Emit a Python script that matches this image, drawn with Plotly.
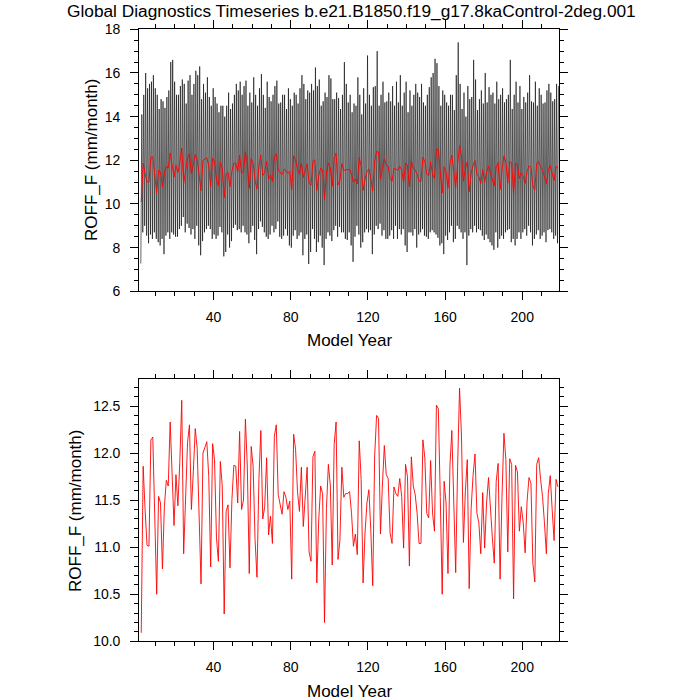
import plotly.graph_objects as go

# ---------------- data ----------------
years = list(range(2, 219))

annual_mean = [
    10.09, 11.86, 11.40, 11.02, 11.01, 12.14, 12.17, 11.30, 10.50, 11.54,
    11.47, 10.77, 11.43, 11.71, 11.65, 12.33, 11.80, 11.23, 11.77, 11.44,
    11.90, 12.56, 10.93, 11.50, 12.11, 12.30, 11.40, 11.80, 12.26, 12.05,
    11.30, 10.61, 12.00, 12.05, 12.12, 11.75, 10.79, 12.10, 11.93, 11.10,
    10.85, 11.91, 11.65, 10.29, 11.38, 11.45, 10.78, 11.50, 11.87, 11.86,
    11.47, 12.23, 11.40, 11.50, 12.36, 11.85, 10.72, 12.07, 11.86, 11.08,
    10.68, 11.72, 12.24, 11.30, 11.43, 11.95, 11.13, 11.33, 11.04, 12.18,
    12.30, 11.56, 11.43, 11.35, 11.59, 11.53, 11.40, 11.49, 10.66, 12.20,
    12.04, 11.59, 11.38, 11.85, 11.22, 11.54, 11.85, 10.95, 10.85, 11.96,
    12.02, 10.62, 11.29, 11.65, 11.57, 10.20, 11.41, 11.88, 11.66, 10.81,
    12.09, 12.33, 10.87, 11.08, 11.85, 11.53, 11.57, 11.57, 11.59, 11.36,
    11.01, 11.14, 10.92, 12.13, 11.72, 10.62, 11.15, 11.47, 11.61, 11.18,
    10.59, 11.97, 12.40, 12.37, 11.14, 11.65, 12.08, 11.77, 11.73, 11.15,
    11.04, 11.64, 11.57, 11.54, 11.73, 11.54, 10.99, 11.88, 11.75, 10.80,
    11.96, 11.65, 11.56, 11.36, 11.04, 11.04, 12.14, 11.95, 11.36, 11.31,
    11.92, 11.36, 11.17, 12.51, 12.47, 11.54, 10.50, 11.70, 11.47, 10.72,
    11.86, 12.24, 11.47, 10.73, 11.86, 12.69, 12.18, 11.05, 11.59, 11.93,
    10.56, 11.41, 11.76, 11.99, 11.36, 11.26, 10.93, 11.58, 10.99, 11.47,
    11.74, 11.36, 11.10, 10.83, 11.70, 11.89, 10.66, 11.54, 12.21, 11.93,
    10.95, 11.94, 11.88, 10.45, 11.87, 11.80, 11.17, 11.43, 11.26, 10.94,
    11.49, 11.74, 11.68, 10.83, 10.63, 11.88, 11.95, 11.72, 11.54, 11.26,
    10.93, 11.57, 11.76, 11.40, 11.07, 11.72, 11.64,
]

# seasonal-cycle peak (highest month) of each year
monthly_max = [
    14.1, 15.0, 16.0, 15.3, 15.5, 15.6, 15.9, 15.3, 15.0, 14.35,
    14.8, 14.7, 14.4, 14.9, 15.2, 16.5, 16.6, 15.6, 15.0, 15.0,
    15.4, 15.7, 15.5, 14.6, 15.65, 15.9, 15.0, 15.5, 16.1, 15.9,
    16.3, 14.8, 15.5, 15.1, 15.8, 14.9, 14.5, 15.3, 14.9, 14.6,
    14.2, 14.5, 14.5, 14.0, 14.5, 15.1, 14.35, 14.6, 15.0, 15.5,
    15.2, 15.6, 15.0, 15.4, 15.65, 14.5, 15.1, 14.65, 15.8, 15.0,
    14.5, 15.3, 15.95, 15.0, 14.4, 15.6, 14.9, 14.7, 15.0, 15.4,
    15.65, 14.6, 14.65, 15.0, 15.0, 14.35, 15.3, 14.8, 14.5, 15.1,
    15.0, 14.6, 15.3, 15.9, 15.5, 14.8, 15.2, 15.1, 15.5, 15.2,
    16.25, 15.4, 15.7, 14.5, 14.7, 15.1, 14.9, 15.9, 15.75, 14.8,
    14.8, 15.1, 14.85, 14.35, 15.0, 16.5, 15.5, 14.65, 15.0, 14.2,
    14.6, 14.5, 15.8, 15.0, 14.1, 15.3, 14.6, 16.8, 15.0, 14.5,
    15.35, 15.4, 17.0, 14.5, 15.0, 15.6, 14.65, 14.7, 15.1, 14.7,
    15.4, 14.5, 15.6, 14.65, 15.9, 14.5, 15.1, 15.6, 14.2, 15.2,
    14.5, 15.0, 15.5, 15.1, 14.9, 15.5, 14.65, 14.5, 15.0, 15.35,
    15.8, 16.0, 16.65, 16.45, 15.4, 14.5, 15.2, 15.0, 14.65, 14.5,
    15.0, 15.0, 14.3, 15.9, 17.4, 15.5, 14.35, 15.1, 14.0, 15.4,
    14.8, 14.9, 16.6, 15.7, 14.3, 14.8, 15.2, 14.6, 16.0, 14.65,
    15.35, 15.0, 15.1, 14.6, 15.6, 14.8, 15.0, 15.3, 14.65, 14.8,
    15.0, 16.6, 14.35, 15.0, 15.6, 14.65, 15.4, 14.35, 14.9, 14.65,
    15.1, 15.9, 14.7, 14.65, 15.6, 14.5, 15.3, 15.0, 14.6, 14.65,
    15.2, 15.5, 15.1, 14.7, 14.8, 15.5, 15.4,
]

# seasonal-cycle trough (lowest month) of each year
monthly_min = [
    7.27, 8.7, 9.0, 8.55, 8.2, 8.6, 8.4, 8.7, 8.4, 8.25,
    8.1, 8.4, 7.7, 8.55, 8.7, 8.4, 8.7, 8.6, 8.5, 8.5,
    8.85, 9.0, 9.4, 8.7, 9.1, 8.9, 8.6, 8.85, 8.4, 9.0,
    8.1, 7.65, 8.3, 8.7, 8.85, 9.0, 8.85, 8.4, 8.6, 8.4,
    8.55, 8.95, 8.7, 7.6, 7.8, 8.6, 8.0, 8.3, 8.9, 9.05,
    8.8, 8.85, 8.7, 9.0, 8.7, 8.6, 8.2, 8.7, 9.0, 8.35,
    7.7, 8.85, 9.2, 8.95, 8.7, 8.5, 8.4, 8.6, 9.0, 8.7,
    8.85, 9.2, 8.5, 8.4, 8.55, 8.85, 8.55, 8.1, 8.0, 8.55,
    8.8, 8.4, 8.55, 8.7, 7.65, 8.4, 8.6, 7.25, 7.8, 8.85,
    8.4, 7.8, 8.25, 8.55, 8.0, 7.2, 8.4, 8.7, 8.55, 8.3,
    8.8, 9.0, 8.5, 8.95, 8.7, 8.7, 8.4, 8.35, 8.7, 8.1,
    7.35, 8.5, 9.0, 8.6, 8.0, 8.25, 8.7, 8.85, 8.7, 8.8,
    7.7, 8.6, 9.0, 8.85, 9.1, 8.55, 8.8, 8.4, 8.4, 8.55,
    8.8, 8.4, 9.0, 8.4, 8.85, 8.6, 8.85, 8.1, 7.8, 8.7,
    8.7, 8.55, 8.85, 8.0, 8.6, 8.7, 8.85, 8.55, 8.5, 8.4,
    8.7, 8.8, 8.7, 8.6, 8.45, 8.1, 8.2, 7.7, 8.55, 8.35,
    8.7, 9.0, 8.25, 8.4, 9.0, 8.85, 8.7, 8.4, 8.7, 7.2,
    8.55, 8.85, 8.7, 9.0, 8.7, 8.85, 8.8, 8.55, 8.35, 8.6,
    8.4, 8.25, 8.1, 7.9, 8.7, 8.0, 8.4, 8.55, 8.4, 8.7,
    8.8, 8.85, 8.25, 8.4, 8.1, 8.4, 8.7, 8.4, 8.7, 8.85,
    8.55, 9.0, 8.7, 8.1, 8.4, 8.6, 8.8, 8.4, 8.55, 8.7,
    8.25, 8.8, 8.85, 8.7, 8.4, 8.55, 8.2,
]

title_text = "Global Diagnostics Timeseries b.e21.B1850.f19_g17.8kaControl-2deg.001"
x_title = "Model Year"
y_title = "ROFF_F (mm/month)"

# ---------------- build traces ----------------
x_ann = [y + 0.5 for y in years]
x_mon, y_mon = [], []
for y, lo, hi in zip(years, monthly_min, monthly_max):
    x_mon += [y + 0.3, y + 0.8]
    y_mon += [lo, hi]

FONT = "Liberation Sans, Helvetica, Arial, sans-serif"
W = H = 700


def px(x):
    return x / W


def py(y):
    return 1 - y / H


fig = go.Figure()
fig.add_trace(go.Scatter(x=x_mon, y=y_mon, mode="lines",
                         line=dict(color="black", width=0.6),
                         xaxis="x", yaxis="y", showlegend=False, hoverinfo="skip"))
fig.add_trace(go.Scatter(x=x_ann, y=annual_mean, mode="lines",
                         line=dict(color="red", width=0.9),
                         xaxis="x", yaxis="y", showlegend=False))
fig.add_trace(go.Scatter(x=x_ann, y=annual_mean, mode="lines",
                         line=dict(color="red", width=0.9),
                         xaxis="x2", yaxis="y2", showlegend=False))

common_axis = dict(
    showline=True, linecolor="black", linewidth=1.2, mirror="allticks",
    ticks="outside", ticklen=8, tickwidth=1.2, tickcolor="black",
    showgrid=False, zeroline=False, automargin=False,
    tickfont=dict(family=FONT, size=14, color="black"),
)
xdom = [px(139.3), px(559.3)]
xcommon = dict(common_axis, range=[1.5, 219.2], tick0=0, dtick=40,
               minor=dict(tick0=0, dtick=10, ticks="outside", ticklen=4,
                          tickwidth=1.2, tickcolor="black", showgrid=False),
               domain=xdom, ticklabelstandoff=5)

fig.update_layout(
    template="none",
    width=W, height=H,
    margin=dict(l=0, r=0, t=0, b=0, pad=0, autoexpand=False),
    paper_bgcolor="white", plot_bgcolor="white",
    font=dict(family=FONT, color="black"),
    xaxis=dict(xcommon, anchor="y"),
    yaxis=dict(common_axis, range=[6, 18], tick0=0, dtick=2,
               minor=dict(tick0=0, dtick=0.5, ticks="outside", ticklen=4,
                          tickwidth=1.2, tickcolor="black", showgrid=False),
               domain=[py(291.3), py(29.3)], anchor="x", ticklabelstandoff=7),
    xaxis2=dict(xcommon, anchor="y2"),
    yaxis2=dict(common_axis, range=[10.0, 12.79], tick0=10, dtick=0.5,
                tickformat=".1f",
                minor=dict(tick0=10, dtick=0.1, ticks="outside", ticklen=4,
                           tickwidth=1.2, tickcolor="black", showgrid=False),
                domain=[py(641.3), py(378.7)], anchor="x2", ticklabelstandoff=7),
)

ann_font = dict(family=FONT, size=17, color="black")
annotations = [
    dict(text=title_text, x=px(351), y=py(11), xref="paper", yref="paper",
         xanchor="center", yanchor="middle", showarrow=False,
         font=dict(ann_font, size=17.3)),
    dict(text=x_title, x=px(349), y=py(341), xref="paper", yref="paper",
         xanchor="center", yanchor="middle", showarrow=False, font=ann_font),
    dict(text=x_title, x=px(349), y=py(691), xref="paper", yref="paper",
         xanchor="center", yanchor="middle", showarrow=False, font=ann_font),
    dict(text=y_title, x=px(92), y=py(160), xref="paper", yref="paper",
         xanchor="center", yanchor="middle", showarrow=False, font=ann_font,
         textangle=-90),
    dict(text=y_title, x=px(75), y=py(511), xref="paper", yref="paper",
         xanchor="center", yanchor="middle", showarrow=False, font=ann_font,
         textangle=-90),
]
fig.update_layout(annotations=annotations)

fig.write_html(
    "out.html",
    config={"displayModeBar": False},
    post_script="document.body.style.margin='0px';document.body.style.overflow='hidden';",
)
